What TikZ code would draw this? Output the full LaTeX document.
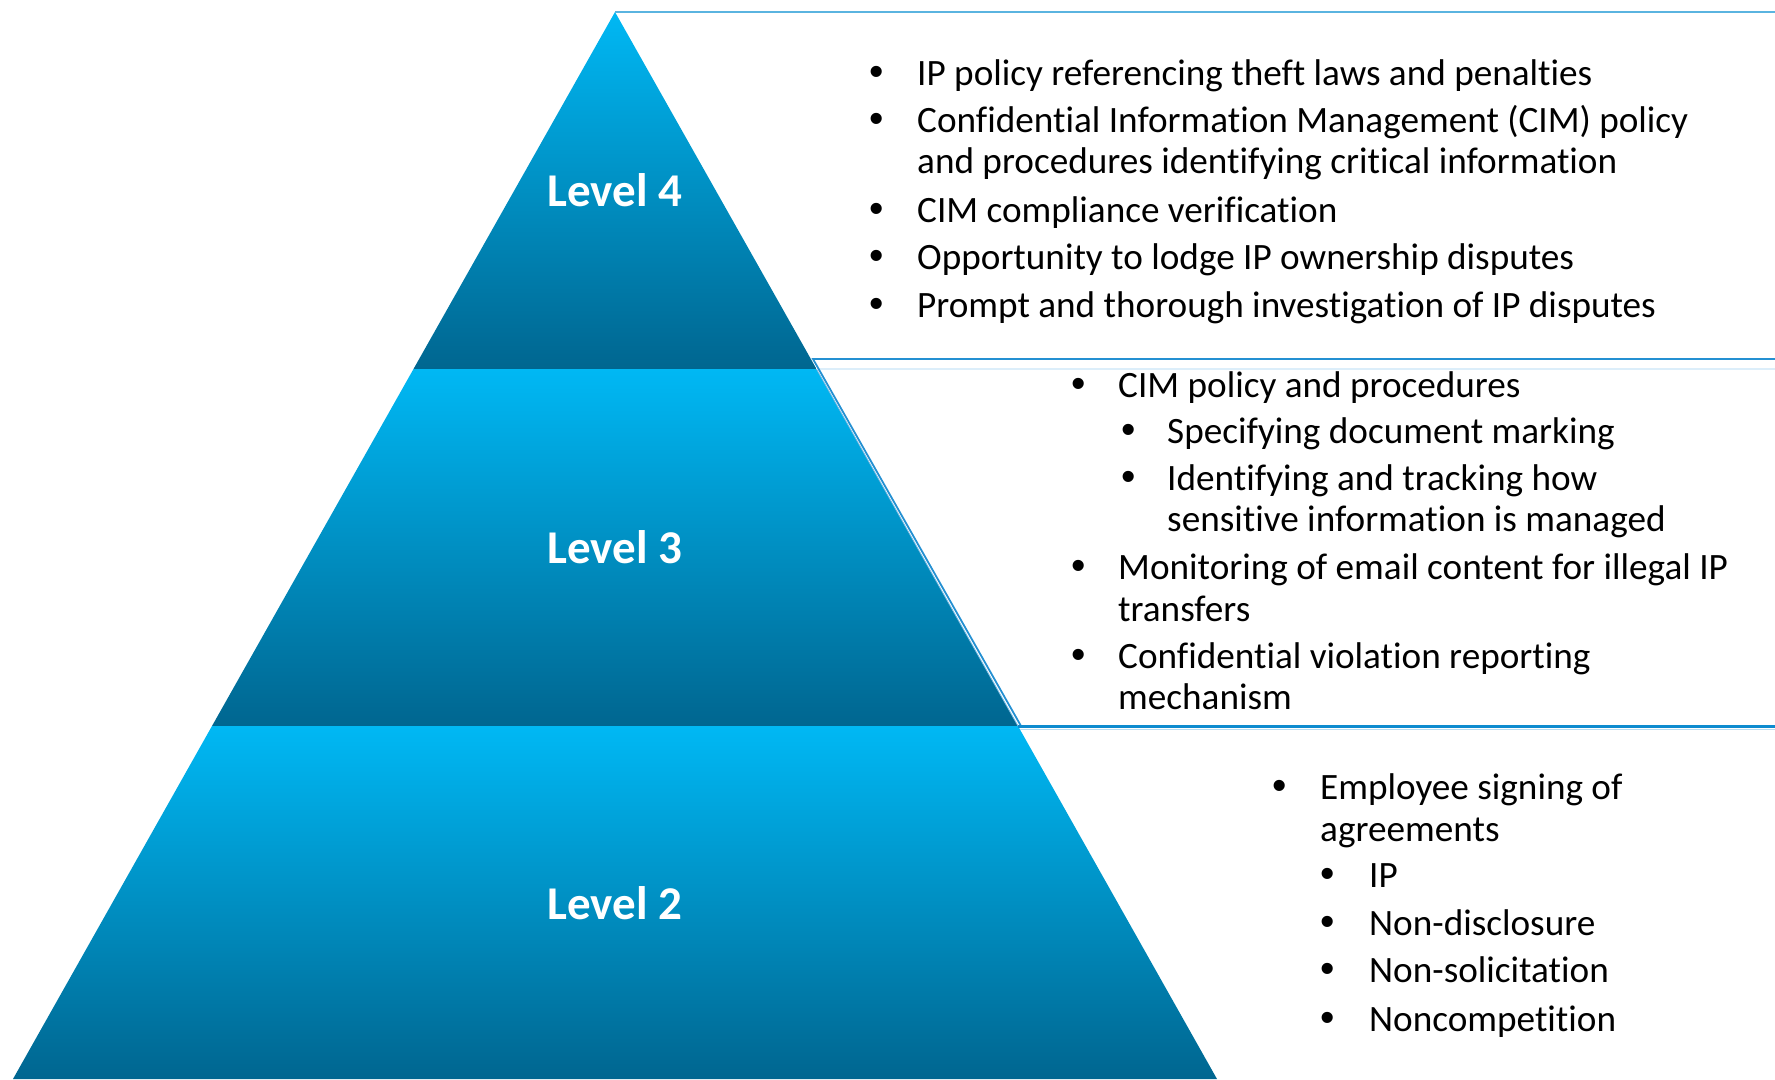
\documentclass[tikz,border=0pt]{standalone}
\usepackage{fontspec}
\setmainfont{Carlito}[Ligatures={NoCommon}]
\newfontfamily\bulfont{Liberation Sans}
\definecolor{lvtop}{HTML}{00B8F4}
\definecolor{lvbot}{HTML}{006690}
\definecolor{lineA}{HTML}{5AB4E0}
\definecolor{lineB}{HTML}{2490D2}
\definecolor{lineC}{HTML}{0E8BCF}
\definecolor{faint}{HTML}{DCEEFA}
\begin{document}
\begin{tikzpicture}[x=1pt,y=-1pt,
  lvl/.style={top color=lvtop,bottom color=lvbot,draw=none},
  lbl/.style={text=white,font=\fontsize{47}{50}\selectfont\bfseries,inner sep=0pt},
  txt/.style={anchor=base west,inner sep=0pt,font=\fontsize{37.2}{40.6}\selectfont},
  bul/.style={anchor=base,inner sep=0pt,font=\fontsize{41}{44}\selectfont\bulfont}]
\useasboundingbox (0,0) rectangle (1775,1079);
% pyramid
\coordinate (apex) at (615,12);
\coordinate (l4L) at (413.5,369); \coordinate (l4R) at (816.5,369);
\coordinate (l3L) at (212,726);   \coordinate (l3R) at (1018,726);
\coordinate (l2L) at (13,1079);   \coordinate (l2R) at (1217,1079);
\shade[lvl] (apex) -- (l4R) -- (l4L) -- cycle;
\shade[lvl] (l4L) -- (l4R) -- (l3R) -- (l3L) -- cycle;
\shade[lvl] (l3L) -- (l3R) -- (l2R) -- (l2L) -- cycle;
\node[lbl] (lab4) at (615,190) {Level 4};
\node[lbl] (lab3) at (615,547) {Level 3};
\node[lbl] (lab2) at (615,903) {Level 2};
% box outlines
\coordinate (topR) at (1775,12);
\draw[lineA,line width=2.5pt] (apex) -- (topR);
\coordinate (b3a) at (813,359);
\coordinate (b3aR) at (1775,359);
\coordinate (b3b) at (1021,726);
\coordinate (b3f) at (818,369);
\coordinate (b3fR) at (1775,369);
\draw[faint,line width=1.5pt] (b3f) -- (b3fR);
\draw[lineB,line width=1.8pt] (b3aR) -- (b3a) -- (b3b);
\draw[lineB!60,line width=0.8pt] (l4R) -- (l3R);
\coordinate (b2R) at (1775,726);
\draw[lineC,line width=3pt] (l3R) -- (b2R);
\coordinate (b2f) at (1020,729.5);
\coordinate (b2fR) at (1775,729.5);
\draw[lineC!30,line width=1.2pt] (b2f) -- (b2fR);
% Level 4 text
\node[bul] (b41) at (877,85) {•};
\node[txt] (t41) at (917,85) {IP policy referencing theft laws and penalties};
\node[bul] (b42) at (877,132) {•};
\node[txt] (t42) at (917,132) {Confidential Information Management (CIM) policy};
\node[txt] (t42b) at (917,173) {and procedures identifying critical information};
\node[bul] (b43) at (877,222) {•};
\node[txt] (t43) at (917,222) {CIM compliance verification};
\node[bul] (b44) at (877,269) {•};
\node[txt] (t44) at (917,269) {Opportunity to lodge IP ownership disputes};
\node[bul] (b45) at (877,317) {•};
\node[txt] (t45) at (917,317) {Prompt and thorough investigation of IP disputes};
% Level 3 text
\node[bul] (b31) at (1079,397) {•};
\node[txt] (t31) at (1118,397) {CIM policy and procedures};
\node[bul] (b32) at (1128.5,443) {•};
\node[txt] (t32) at (1167,443) {Specifying document marking};
\node[bul] (b33) at (1128.5,490) {•};
\node[txt] (t33) at (1167,490) {Identifying and tracking how};
\node[txt] (t33b) at (1167,531) {sensitive information is managed};
\node[bul] (b34) at (1079,579) {•};
\node[txt] (t34) at (1118,579) {Monitoring of email content for illegal IP};
\node[txt] (t34b) at (1118,621) {transfers};
\node[bul] (b35) at (1079,668) {•};
\node[txt] (t35) at (1118,668) {Confidential violation reporting};
\node[txt] (t35b) at (1118,709) {mechanism};
% Level 2 text
\node[bul] (b21) at (1280,799) {•};
\node[txt] (t21) at (1320,799) {Employee signing of};
\node[txt] (t21b) at (1320,841) {agreements};
\node[bul] (b22) at (1328,887) {•};
\node[txt] (t22) at (1369,887) {IP};
\node[bul] (b23) at (1328,935) {•};
\node[txt] (t23) at (1369,935) {Non-disclosure};
\node[bul] (b24) at (1328,982) {•};
\node[txt] (t24) at (1369,982) {Non-solicitation};
\node[bul] (b25) at (1328,1031) {•};
\node[txt] (t25) at (1369,1031) {Noncompetition};
\end{tikzpicture}
\end{document}
